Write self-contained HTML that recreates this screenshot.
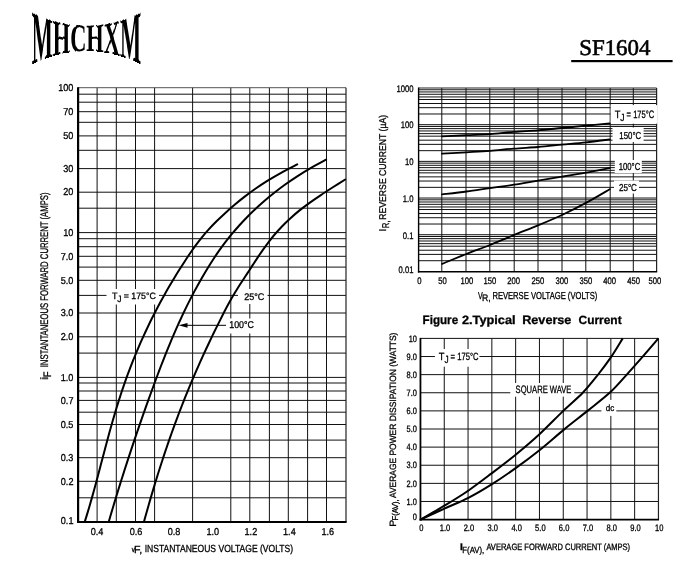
<!DOCTYPE html>
<html><head><meta charset="utf-8"><style>
html,body{margin:0;padding:0;background:#fff;}
svg{display:block;filter:grayscale(1);}

</style></head><body>
<svg font-family="Liberation Sans, sans-serif" text-rendering="geometricPrecision" width="700" height="565" viewBox="0 0 700 565">
<defs>
<g id="lg"><text x="31.7" y="51.05" font-family="Liberation Serif" font-weight="bold" font-size="38.5" textLength="109.3" lengthAdjust="spacingAndGlyphs">MHCHXM</text></g>
<clipPath id="c0"><rect x="29" y="0" width="1.02" height="80"/></clipPath>
<clipPath id="c1"><rect x="30" y="0" width="1.02" height="80"/></clipPath>
<clipPath id="c2"><rect x="31" y="0" width="1.02" height="80"/></clipPath>
<clipPath id="c3"><rect x="32" y="0" width="1.02" height="80"/></clipPath>
<clipPath id="c4"><rect x="33" y="0" width="1.02" height="80"/></clipPath>
<clipPath id="c5"><rect x="34" y="0" width="1.02" height="80"/></clipPath>
<clipPath id="c6"><rect x="35" y="0" width="1.02" height="80"/></clipPath>
<clipPath id="c7"><rect x="36" y="0" width="1.02" height="80"/></clipPath>
<clipPath id="c8"><rect x="37" y="0" width="1.02" height="80"/></clipPath>
<clipPath id="c9"><rect x="38" y="0" width="1.02" height="80"/></clipPath>
<clipPath id="c10"><rect x="39" y="0" width="1.02" height="80"/></clipPath>
<clipPath id="c11"><rect x="40" y="0" width="1.02" height="80"/></clipPath>
<clipPath id="c12"><rect x="41" y="0" width="1.02" height="80"/></clipPath>
<clipPath id="c13"><rect x="42" y="0" width="1.02" height="80"/></clipPath>
<clipPath id="c14"><rect x="43" y="0" width="1.02" height="80"/></clipPath>
<clipPath id="c15"><rect x="44" y="0" width="1.02" height="80"/></clipPath>
<clipPath id="c16"><rect x="45" y="0" width="1.02" height="80"/></clipPath>
<clipPath id="c17"><rect x="46" y="0" width="1.02" height="80"/></clipPath>
<clipPath id="c18"><rect x="47" y="0" width="1.02" height="80"/></clipPath>
<clipPath id="c19"><rect x="48" y="0" width="1.02" height="80"/></clipPath>
<clipPath id="c20"><rect x="49" y="0" width="1.02" height="80"/></clipPath>
<clipPath id="c21"><rect x="50" y="0" width="1.02" height="80"/></clipPath>
<clipPath id="c22"><rect x="51" y="0" width="1.02" height="80"/></clipPath>
<clipPath id="c23"><rect x="52" y="0" width="1.02" height="80"/></clipPath>
<clipPath id="c24"><rect x="53" y="0" width="1.02" height="80"/></clipPath>
<clipPath id="c25"><rect x="54" y="0" width="1.02" height="80"/></clipPath>
<clipPath id="c26"><rect x="55" y="0" width="1.02" height="80"/></clipPath>
<clipPath id="c27"><rect x="56" y="0" width="1.02" height="80"/></clipPath>
<clipPath id="c28"><rect x="57" y="0" width="1.02" height="80"/></clipPath>
<clipPath id="c29"><rect x="58" y="0" width="1.02" height="80"/></clipPath>
<clipPath id="c30"><rect x="59" y="0" width="1.02" height="80"/></clipPath>
<clipPath id="c31"><rect x="60" y="0" width="1.02" height="80"/></clipPath>
<clipPath id="c32"><rect x="61" y="0" width="1.02" height="80"/></clipPath>
<clipPath id="c33"><rect x="62" y="0" width="1.02" height="80"/></clipPath>
<clipPath id="c34"><rect x="63" y="0" width="1.02" height="80"/></clipPath>
<clipPath id="c35"><rect x="64" y="0" width="1.02" height="80"/></clipPath>
<clipPath id="c36"><rect x="65" y="0" width="1.02" height="80"/></clipPath>
<clipPath id="c37"><rect x="66" y="0" width="1.02" height="80"/></clipPath>
<clipPath id="c38"><rect x="67" y="0" width="1.02" height="80"/></clipPath>
<clipPath id="c39"><rect x="68" y="0" width="1.02" height="80"/></clipPath>
<clipPath id="c40"><rect x="69" y="0" width="1.02" height="80"/></clipPath>
<clipPath id="c41"><rect x="70" y="0" width="1.02" height="80"/></clipPath>
<clipPath id="c42"><rect x="71" y="0" width="1.02" height="80"/></clipPath>
<clipPath id="c43"><rect x="72" y="0" width="1.02" height="80"/></clipPath>
<clipPath id="c44"><rect x="73" y="0" width="1.02" height="80"/></clipPath>
<clipPath id="c45"><rect x="74" y="0" width="1.02" height="80"/></clipPath>
<clipPath id="c46"><rect x="75" y="0" width="1.02" height="80"/></clipPath>
<clipPath id="c47"><rect x="76" y="0" width="1.02" height="80"/></clipPath>
<clipPath id="c48"><rect x="77" y="0" width="1.02" height="80"/></clipPath>
<clipPath id="c49"><rect x="78" y="0" width="1.02" height="80"/></clipPath>
<clipPath id="c50"><rect x="79" y="0" width="1.02" height="80"/></clipPath>
<clipPath id="c51"><rect x="80" y="0" width="1.02" height="80"/></clipPath>
<clipPath id="c52"><rect x="81" y="0" width="1.02" height="80"/></clipPath>
<clipPath id="c53"><rect x="82" y="0" width="1.02" height="80"/></clipPath>
<clipPath id="c54"><rect x="83" y="0" width="1.02" height="80"/></clipPath>
<clipPath id="c55"><rect x="84" y="0" width="1.02" height="80"/></clipPath>
<clipPath id="c56"><rect x="85" y="0" width="1.02" height="80"/></clipPath>
<clipPath id="c57"><rect x="86" y="0" width="1.02" height="80"/></clipPath>
<clipPath id="c58"><rect x="87" y="0" width="1.02" height="80"/></clipPath>
<clipPath id="c59"><rect x="88" y="0" width="1.02" height="80"/></clipPath>
<clipPath id="c60"><rect x="89" y="0" width="1.02" height="80"/></clipPath>
<clipPath id="c61"><rect x="90" y="0" width="1.02" height="80"/></clipPath>
<clipPath id="c62"><rect x="91" y="0" width="1.02" height="80"/></clipPath>
<clipPath id="c63"><rect x="92" y="0" width="1.02" height="80"/></clipPath>
<clipPath id="c64"><rect x="93" y="0" width="1.02" height="80"/></clipPath>
<clipPath id="c65"><rect x="94" y="0" width="1.02" height="80"/></clipPath>
<clipPath id="c66"><rect x="95" y="0" width="1.02" height="80"/></clipPath>
<clipPath id="c67"><rect x="96" y="0" width="1.02" height="80"/></clipPath>
<clipPath id="c68"><rect x="97" y="0" width="1.02" height="80"/></clipPath>
<clipPath id="c69"><rect x="98" y="0" width="1.02" height="80"/></clipPath>
<clipPath id="c70"><rect x="99" y="0" width="1.02" height="80"/></clipPath>
<clipPath id="c71"><rect x="100" y="0" width="1.02" height="80"/></clipPath>
<clipPath id="c72"><rect x="101" y="0" width="1.02" height="80"/></clipPath>
<clipPath id="c73"><rect x="102" y="0" width="1.02" height="80"/></clipPath>
<clipPath id="c74"><rect x="103" y="0" width="1.02" height="80"/></clipPath>
<clipPath id="c75"><rect x="104" y="0" width="1.02" height="80"/></clipPath>
<clipPath id="c76"><rect x="105" y="0" width="1.02" height="80"/></clipPath>
<clipPath id="c77"><rect x="106" y="0" width="1.02" height="80"/></clipPath>
<clipPath id="c78"><rect x="107" y="0" width="1.02" height="80"/></clipPath>
<clipPath id="c79"><rect x="108" y="0" width="1.02" height="80"/></clipPath>
<clipPath id="c80"><rect x="109" y="0" width="1.02" height="80"/></clipPath>
<clipPath id="c81"><rect x="110" y="0" width="1.02" height="80"/></clipPath>
<clipPath id="c82"><rect x="111" y="0" width="1.02" height="80"/></clipPath>
<clipPath id="c83"><rect x="112" y="0" width="1.02" height="80"/></clipPath>
<clipPath id="c84"><rect x="113" y="0" width="1.02" height="80"/></clipPath>
<clipPath id="c85"><rect x="114" y="0" width="1.02" height="80"/></clipPath>
<clipPath id="c86"><rect x="115" y="0" width="1.02" height="80"/></clipPath>
<clipPath id="c87"><rect x="116" y="0" width="1.02" height="80"/></clipPath>
<clipPath id="c88"><rect x="117" y="0" width="1.02" height="80"/></clipPath>
<clipPath id="c89"><rect x="118" y="0" width="1.02" height="80"/></clipPath>
<clipPath id="c90"><rect x="119" y="0" width="1.02" height="80"/></clipPath>
<clipPath id="c91"><rect x="120" y="0" width="1.02" height="80"/></clipPath>
<clipPath id="c92"><rect x="121" y="0" width="1.02" height="80"/></clipPath>
<clipPath id="c93"><rect x="122" y="0" width="1.02" height="80"/></clipPath>
<clipPath id="c94"><rect x="123" y="0" width="1.02" height="80"/></clipPath>
<clipPath id="c95"><rect x="124" y="0" width="1.02" height="80"/></clipPath>
<clipPath id="c96"><rect x="125" y="0" width="1.02" height="80"/></clipPath>
<clipPath id="c97"><rect x="126" y="0" width="1.02" height="80"/></clipPath>
<clipPath id="c98"><rect x="127" y="0" width="1.02" height="80"/></clipPath>
<clipPath id="c99"><rect x="128" y="0" width="1.02" height="80"/></clipPath>
<clipPath id="c100"><rect x="129" y="0" width="1.02" height="80"/></clipPath>
<clipPath id="c101"><rect x="130" y="0" width="1.02" height="80"/></clipPath>
<clipPath id="c102"><rect x="131" y="0" width="1.02" height="80"/></clipPath>
<clipPath id="c103"><rect x="132" y="0" width="1.02" height="80"/></clipPath>
<clipPath id="c104"><rect x="133" y="0" width="1.02" height="80"/></clipPath>
<clipPath id="c105"><rect x="134" y="0" width="1.02" height="80"/></clipPath>
<clipPath id="c106"><rect x="135" y="0" width="1.02" height="80"/></clipPath>
<clipPath id="c107"><rect x="136" y="0" width="1.02" height="80"/></clipPath>
<clipPath id="c108"><rect x="137" y="0" width="1.02" height="80"/></clipPath>
<clipPath id="c109"><rect x="138" y="0" width="1.02" height="80"/></clipPath>
<clipPath id="c110"><rect x="139" y="0" width="1.02" height="80"/></clipPath>
<clipPath id="c111"><rect x="140" y="0" width="1.02" height="80"/></clipPath>
<clipPath id="c112"><rect x="141" y="0" width="1.02" height="80"/></clipPath>
<clipPath id="c113"><rect x="142" y="0" width="1.02" height="80"/></clipPath>
<clipPath id="c114"><rect x="143" y="0" width="1.02" height="80"/></clipPath>
</defs>
<rect width="700" height="565" fill="#fff"/>
<g id="left">
<line x1="78.1" y1="94.2" x2="346" y2="94.2" stroke="#111" stroke-width="1"/>
<line x1="78.1" y1="102.2" x2="346" y2="102.2" stroke="#111" stroke-width="1"/>
<line x1="78.1" y1="111.7" x2="346" y2="111.7" stroke="#111" stroke-width="1"/>
<line x1="78.1" y1="122.3" x2="346" y2="122.3" stroke="#111" stroke-width="1"/>
<line x1="78.1" y1="135.9" x2="346" y2="135.9" stroke="#111" stroke-width="1"/>
<line x1="78.1" y1="150.3" x2="346" y2="150.3" stroke="#111" stroke-width="1"/>
<line x1="78.1" y1="168.6" x2="346" y2="168.6" stroke="#111" stroke-width="1"/>
<line x1="78.1" y1="192.2" x2="346" y2="192.2" stroke="#111" stroke-width="1"/>
<line x1="78.1" y1="208.2" x2="346" y2="208.2" stroke="#111" stroke-width="1"/>
<line x1="78.1" y1="232.6" x2="346" y2="232.6" stroke="#111" stroke-width="1"/>
<line x1="78.1" y1="238.7" x2="346" y2="238.7" stroke="#111" stroke-width="1"/>
<line x1="78.1" y1="246.7" x2="346" y2="246.7" stroke="#111" stroke-width="1"/>
<line x1="78.1" y1="256.3" x2="346" y2="256.3" stroke="#111" stroke-width="1"/>
<line x1="78.1" y1="267.1" x2="346" y2="267.1" stroke="#111" stroke-width="1"/>
<line x1="78.1" y1="280.3" x2="346" y2="280.3" stroke="#111" stroke-width="1"/>
<line x1="78.1" y1="295.4" x2="346" y2="295.4" stroke="#111" stroke-width="1"/>
<line x1="78.1" y1="313" x2="346" y2="313" stroke="#111" stroke-width="1"/>
<line x1="78.1" y1="336.8" x2="346" y2="336.8" stroke="#111" stroke-width="1"/>
<line x1="78.1" y1="353.1" x2="346" y2="353.1" stroke="#111" stroke-width="1"/>
<line x1="78.1" y1="377.4" x2="346" y2="377.4" stroke="#111" stroke-width="1"/>
<line x1="78.1" y1="383" x2="346" y2="383" stroke="#111" stroke-width="1"/>
<line x1="78.1" y1="391" x2="346" y2="391" stroke="#111" stroke-width="1"/>
<line x1="78.1" y1="400.4" x2="346" y2="400.4" stroke="#111" stroke-width="1"/>
<line x1="78.1" y1="412.2" x2="346" y2="412.2" stroke="#111" stroke-width="1"/>
<line x1="78.1" y1="424.5" x2="346" y2="424.5" stroke="#111" stroke-width="1"/>
<line x1="78.1" y1="440.1" x2="346" y2="440.1" stroke="#111" stroke-width="1"/>
<line x1="78.1" y1="457.7" x2="346" y2="457.7" stroke="#111" stroke-width="1"/>
<line x1="78.1" y1="481.3" x2="346" y2="481.3" stroke="#111" stroke-width="1"/>
<line x1="78.1" y1="497.8" x2="346" y2="497.8" stroke="#111" stroke-width="1"/>
<line x1="97.1" y1="87.7" x2="97.1" y2="521.9" stroke="#111" stroke-width="1"/>
<line x1="116.3" y1="87.7" x2="116.3" y2="521.9" stroke="#111" stroke-width="1"/>
<line x1="135.5" y1="87.7" x2="135.5" y2="521.9" stroke="#111" stroke-width="1"/>
<line x1="154.6" y1="87.7" x2="154.6" y2="521.9" stroke="#111" stroke-width="1"/>
<line x1="192.6" y1="87.7" x2="192.6" y2="521.9" stroke="#111" stroke-width="1"/>
<line x1="230.8" y1="87.7" x2="230.8" y2="521.9" stroke="#111" stroke-width="1"/>
<line x1="249.8" y1="87.7" x2="249.8" y2="521.9" stroke="#111" stroke-width="1"/>
<line x1="269.4" y1="87.7" x2="269.4" y2="521.9" stroke="#111" stroke-width="1"/>
<line x1="288.3" y1="87.7" x2="288.3" y2="521.9" stroke="#111" stroke-width="1"/>
<line x1="307.6" y1="87.7" x2="307.6" y2="521.9" stroke="#111" stroke-width="1"/>
<line x1="326.5" y1="87.7" x2="326.5" y2="521.9" stroke="#111" stroke-width="1"/>
<line x1="78.1" y1="87.7" x2="346" y2="87.7" stroke="#555" stroke-width="1"/>
<line x1="346" y1="87.7" x2="346" y2="521.9" stroke="#222" stroke-width="1.2"/>
<line x1="78.1" y1="87.2" x2="78.1" y2="522.9" stroke="#000" stroke-width="2.2"/>
<line x1="77.1" y1="521.9" x2="346.6" y2="521.9" stroke="#000" stroke-width="2"/>
<rect x="106.5" y="289" width="52.5" height="15.5" fill="#fff"/>
<rect x="238" y="289" width="29.5" height="15" fill="#fff"/>
<rect x="227" y="318.5" width="30" height="15" fill="#fff"/>
<line x1="186" y1="325.3" x2="226" y2="325.3" stroke="#000" stroke-width="1"/>
<path d="M178.6,325.3 L187.5,322.9 L187.5,327.7 Z" fill="#000"/>
<path d="M84.7,522 C85.12,520.64 86.39,516.58 87.21,513.87 C88.03,511.16 88.84,508.46 89.63,505.75 C90.42,503.04 91.19,500.33 91.96,497.62 C92.72,494.91 93.47,492.2 94.22,489.49 C94.97,486.78 95.7,484.07 96.43,481.36 C97.16,478.65 97.87,475.95 98.59,473.24 C99.31,470.53 100.02,467.82 100.74,465.11 C101.45,462.4 102.16,459.69 102.88,456.98 C103.59,454.27 104.31,451.56 105.03,448.85 C105.75,446.14 106.47,443.44 107.2,440.73 C107.93,438.02 108.66,435.31 109.41,432.6 C110.16,429.89 110.9,427.18 111.67,424.47 C112.44,421.76 113.22,419.06 114.01,416.35 C114.8,413.64 115.61,410.93 116.43,408.22 C117.25,405.51 118.09,402.8 118.95,400.09 C119.81,397.38 120.68,394.67 121.58,391.96 C122.48,389.25 123.4,386.55 124.35,383.84 C125.3,381.13 126.27,378.42 127.26,375.71 C128.25,373 129.26,370.29 130.3,367.58 C131.34,364.87 132.4,362.16 133.49,359.45 C134.58,356.74 135.69,354.04 136.83,351.33 C137.97,348.62 139.13,345.91 140.32,343.2 C141.51,340.49 142.72,337.78 143.96,335.07 C145.2,332.36 146.48,329.66 147.77,326.95 C149.06,324.24 150.38,321.53 151.73,318.82 C153.08,316.11 154.46,313.4 155.87,310.69 C157.28,307.98 158.71,305.27 160.17,302.56 C161.63,299.85 163.13,297.15 164.65,294.44 C166.17,291.73 167.72,289.02 169.3,286.31 C170.88,283.6 172.5,280.89 174.14,278.18 C175.78,275.47 177.45,272.76 179.16,270.05 C180.87,267.34 182.6,264.64 184.37,261.93 C186.14,259.22 187.94,256.51 189.79,253.8 C191.64,251.09 193.49,248.38 195.48,245.67 C197.47,242.96 199.5,240.26 201.71,237.55 C203.92,234.84 206.26,232.13 208.73,229.42 C211.2,226.71 213.81,224 216.54,221.29 C219.27,218.58 222.13,215.87 225.1,213.16 C228.07,210.45 231.13,207.75 234.34,205.04 C237.55,202.33 240.85,199.62 244.36,196.91 C247.87,194.2 251.49,191.49 255.38,188.78 C259.27,186.07 263.33,183.36 267.69,180.65 C272.05,177.94 276.62,175.24 281.54,172.53 C286.46,169.82 294.59,165.75 297.2,164.4" fill="none" stroke="#000" stroke-width="2" stroke-linecap="round" stroke-linejoin="round"/>
<path d="M108.68,522 C109.08,520.63 110.28,516.5 111.09,513.76 C111.9,511.01 112.72,508.27 113.54,505.53 C114.36,502.78 115.19,500.04 116.03,497.29 C116.87,494.54 117.71,491.8 118.56,489.05 C119.41,486.31 120.27,483.56 121.13,480.82 C121.99,478.07 122.86,475.32 123.74,472.58 C124.62,469.83 125.5,467.1 126.39,464.35 C127.28,461.61 128.17,458.86 129.07,456.11 C129.97,453.36 130.89,450.62 131.8,447.87 C132.72,445.12 133.63,442.38 134.56,439.64 C135.49,436.89 136.43,434.15 137.37,431.4 C138.31,428.65 139.26,425.91 140.21,423.16 C141.16,420.42 142.12,417.68 143.08,414.93 C144.05,412.19 145.02,409.44 146,406.69 C146.98,403.94 147.95,401.19 148.94,398.45 C149.93,395.7 150.93,392.97 151.93,390.22 C152.93,387.48 153.94,384.73 154.95,381.98 C155.96,379.24 156.99,376.5 158.02,373.75 C159.05,371 160.09,368.26 161.15,365.51 C162.21,362.76 163.28,360.01 164.36,357.27 C165.45,354.52 166.54,351.79 167.66,349.04 C168.78,346.3 169.92,343.55 171.07,340.8 C172.22,338.05 173.39,335.31 174.58,332.56 C175.77,329.81 176.99,327.07 178.23,324.33 C179.47,321.58 180.73,318.84 182.02,316.09 C183.31,313.34 184.62,310.6 185.97,307.85 C187.31,305.11 188.69,302.37 190.09,299.62 C191.49,296.88 192.91,294.12 194.38,291.38 C195.84,288.63 197.34,285.89 198.88,283.15 C200.41,280.4 201.98,277.66 203.59,274.91 C205.2,272.16 206.85,269.42 208.55,266.67 C210.25,263.93 212,261.19 213.82,258.44 C215.64,255.69 217.51,252.95 219.47,250.2 C221.43,247.45 223.44,244.71 225.55,241.96 C227.66,239.22 229.84,236.47 232.12,233.73 C234.4,230.98 236.77,228.24 239.25,225.49 C241.73,222.74 244.3,220 246.99,217.25 C249.68,214.5 252.48,211.77 255.41,209.02 C258.34,206.28 261.39,203.53 264.59,200.78 C267.79,198.03 271.11,195.3 274.6,192.55 C278.09,189.81 281.7,187.06 285.53,184.31 C289.36,181.56 293.35,178.81 297.6,176.07 C301.85,173.32 306.28,170.59 311.03,167.84 C315.78,165.09 323.57,160.97 326.08,159.6" fill="none" stroke="#000" stroke-width="2" stroke-linecap="round" stroke-linejoin="round"/>
<path d="M143.9,522 C144.26,520.7 145.33,516.82 146.06,514.22 C146.79,511.62 147.53,509.03 148.27,506.43 C149.01,503.83 149.75,501.25 150.51,498.65 C151.27,496.05 152.03,493.46 152.81,490.86 C153.59,488.26 154.37,485.67 155.16,483.08 C155.95,480.49 156.75,477.89 157.56,475.3 C158.37,472.71 159.19,470.11 160.02,467.51 C160.85,464.91 161.69,462.33 162.54,459.73 C163.39,457.13 164.25,454.53 165.12,451.94 C165.99,449.35 166.87,446.75 167.76,444.16 C168.65,441.57 169.56,438.98 170.47,436.38 C171.38,433.78 172.31,431.18 173.25,428.59 C174.19,426 175.14,423.4 176.1,420.81 C177.06,418.22 178.04,415.62 179.03,413.02 C180.02,410.42 181.02,407.84 182.03,405.24 C183.04,402.64 184.07,400.04 185.11,397.45 C186.15,394.86 187.2,392.26 188.27,389.67 C189.34,387.08 190.43,384.49 191.52,381.89 C192.62,379.29 193.72,376.7 194.84,374.1 C195.96,371.5 197.09,368.92 198.24,366.32 C199.39,363.72 200.56,361.12 201.73,358.53 C202.9,355.93 204.09,353.34 205.29,350.75 C206.49,348.16 207.71,345.57 208.94,342.97 C210.17,340.38 211.41,337.78 212.66,335.18 C213.91,332.58 215.19,330 216.47,327.4 C217.75,324.8 219.05,322.21 220.36,319.61 C221.67,317.01 222.98,314.42 224.32,311.83 C225.66,309.24 227,306.64 228.41,304.05 C229.82,301.46 231.25,298.86 232.76,296.26 C234.27,293.66 235.87,291.08 237.5,288.48 C239.13,285.88 240.84,283.28 242.53,280.69 C244.22,278.1 245.95,275.5 247.64,272.91 C249.33,270.32 251,267.72 252.69,265.12 C254.38,262.52 256.05,259.93 257.78,257.34 C259.51,254.75 261.24,252.16 263.08,249.56 C264.92,246.97 266.8,244.37 268.8,241.77 C270.8,239.18 272.87,236.59 275.1,233.99 C277.33,231.4 279.67,228.79 282.18,226.2 C284.69,223.6 287.34,221.01 290.19,218.42 C293.04,215.83 296.04,213.23 299.27,210.64 C302.5,208.04 305.95,205.44 309.55,202.85 C313.15,200.25 316.98,197.66 320.87,195.07 C324.76,192.47 328.81,189.88 332.87,187.28 C336.93,184.69 343.15,180.8 345.21,179.5" fill="none" stroke="#000" stroke-width="2" stroke-linecap="round" stroke-linejoin="round"/>
</g>
<g id="rtop">
<line x1="418.6" y1="260.71" x2="656.6" y2="260.71" stroke="#111" stroke-width="1"/>
<line x1="418.6" y1="254.4" x2="656.6" y2="254.4" stroke="#111" stroke-width="1"/>
<line x1="418.6" y1="250.22" x2="656.6" y2="250.22" stroke="#111" stroke-width="1"/>
<line x1="418.6" y1="246.21" x2="656.6" y2="246.21" stroke="#111" stroke-width="1"/>
<line x1="418.6" y1="243.66" x2="656.6" y2="243.66" stroke="#111" stroke-width="1"/>
<line x1="418.6" y1="241" x2="656.6" y2="241" stroke="#111" stroke-width="1"/>
<line x1="418.6" y1="238.67" x2="656.6" y2="238.67" stroke="#111" stroke-width="1"/>
<line x1="418.6" y1="236.5" x2="656.6" y2="236.5" stroke="#111" stroke-width="1"/>
<line x1="418.6" y1="224.03" x2="656.6" y2="224.03" stroke="#111" stroke-width="1"/>
<line x1="418.6" y1="217.72" x2="656.6" y2="217.72" stroke="#111" stroke-width="1"/>
<line x1="418.6" y1="213.54" x2="656.6" y2="213.54" stroke="#111" stroke-width="1"/>
<line x1="418.6" y1="209.53" x2="656.6" y2="209.53" stroke="#111" stroke-width="1"/>
<line x1="418.6" y1="206.98" x2="656.6" y2="206.98" stroke="#111" stroke-width="1"/>
<line x1="418.6" y1="204.32" x2="656.6" y2="204.32" stroke="#111" stroke-width="1"/>
<line x1="418.6" y1="201.99" x2="656.6" y2="201.99" stroke="#111" stroke-width="1"/>
<line x1="418.6" y1="199.82" x2="656.6" y2="199.82" stroke="#111" stroke-width="1"/>
<line x1="418.6" y1="234.72" x2="656.6" y2="234.72" stroke="#111" stroke-width="1"/>
<line x1="418.6" y1="187.35" x2="656.6" y2="187.35" stroke="#111" stroke-width="1"/>
<line x1="418.6" y1="181.04" x2="656.6" y2="181.04" stroke="#111" stroke-width="1"/>
<line x1="418.6" y1="176.86" x2="656.6" y2="176.86" stroke="#111" stroke-width="1"/>
<line x1="418.6" y1="172.85" x2="656.6" y2="172.85" stroke="#111" stroke-width="1"/>
<line x1="418.6" y1="170.3" x2="656.6" y2="170.3" stroke="#111" stroke-width="1"/>
<line x1="418.6" y1="167.64" x2="656.6" y2="167.64" stroke="#111" stroke-width="1"/>
<line x1="418.6" y1="165.31" x2="656.6" y2="165.31" stroke="#111" stroke-width="1"/>
<line x1="418.6" y1="163.14" x2="656.6" y2="163.14" stroke="#111" stroke-width="1"/>
<line x1="418.6" y1="198.04" x2="656.6" y2="198.04" stroke="#111" stroke-width="1"/>
<line x1="418.6" y1="150.67" x2="656.6" y2="150.67" stroke="#111" stroke-width="1"/>
<line x1="418.6" y1="144.36" x2="656.6" y2="144.36" stroke="#111" stroke-width="1"/>
<line x1="418.6" y1="140.18" x2="656.6" y2="140.18" stroke="#111" stroke-width="1"/>
<line x1="418.6" y1="136.17" x2="656.6" y2="136.17" stroke="#111" stroke-width="1"/>
<line x1="418.6" y1="133.62" x2="656.6" y2="133.62" stroke="#111" stroke-width="1"/>
<line x1="418.6" y1="130.96" x2="656.6" y2="130.96" stroke="#111" stroke-width="1"/>
<line x1="418.6" y1="128.63" x2="656.6" y2="128.63" stroke="#111" stroke-width="1"/>
<line x1="418.6" y1="126.46" x2="656.6" y2="126.46" stroke="#111" stroke-width="1"/>
<line x1="418.6" y1="161.36" x2="656.6" y2="161.36" stroke="#111" stroke-width="1"/>
<line x1="418.6" y1="113.99" x2="656.6" y2="113.99" stroke="#111" stroke-width="1"/>
<line x1="418.6" y1="107.68" x2="656.6" y2="107.68" stroke="#111" stroke-width="1"/>
<line x1="418.6" y1="103.5" x2="656.6" y2="103.5" stroke="#111" stroke-width="1"/>
<line x1="418.6" y1="99.49" x2="656.6" y2="99.49" stroke="#111" stroke-width="1"/>
<line x1="418.6" y1="96.94" x2="656.6" y2="96.94" stroke="#111" stroke-width="1"/>
<line x1="418.6" y1="94.28" x2="656.6" y2="94.28" stroke="#111" stroke-width="1"/>
<line x1="418.6" y1="91.95" x2="656.6" y2="91.95" stroke="#111" stroke-width="1"/>
<line x1="418.6" y1="89.78" x2="656.6" y2="89.78" stroke="#111" stroke-width="1"/>
<line x1="418.6" y1="124.68" x2="656.6" y2="124.68" stroke="#111" stroke-width="1"/>
<line x1="441.8" y1="88" x2="441.8" y2="271.4" stroke="#111" stroke-width="1"/>
<line x1="466" y1="88" x2="466" y2="271.4" stroke="#111" stroke-width="1"/>
<line x1="489.8" y1="88" x2="489.8" y2="271.4" stroke="#111" stroke-width="1"/>
<line x1="514.2" y1="88" x2="514.2" y2="271.4" stroke="#111" stroke-width="1"/>
<line x1="538" y1="88" x2="538" y2="271.4" stroke="#111" stroke-width="1"/>
<line x1="562" y1="88" x2="562" y2="271.4" stroke="#111" stroke-width="1"/>
<line x1="585.8" y1="88" x2="585.8" y2="271.4" stroke="#111" stroke-width="1"/>
<line x1="610.2" y1="88" x2="610.2" y2="271.4" stroke="#111" stroke-width="1"/>
<line x1="633.3" y1="88" x2="633.3" y2="271.4" stroke="#111" stroke-width="1"/>
<line x1="418.6" y1="88" x2="656.6" y2="88" stroke="#222" stroke-width="1"/>
<line x1="656.6" y1="88" x2="656.6" y2="271.8" stroke="#222" stroke-width="1.2"/>
<line x1="418.6" y1="87.5" x2="418.6" y2="272.6" stroke="#000" stroke-width="1.4"/>
<line x1="417.9" y1="271.8" x2="657.2" y2="271.8" stroke="#000" stroke-width="1.6"/>
<rect x="610.7" y="105.1" width="46.8" height="18.6" fill="#fff"/>
<rect x="612.5" y="127.5" width="31.1" height="14.5" fill="#fff"/>
<rect x="614.8" y="160" width="27" height="13" fill="#fff"/>
<rect x="614" y="180.5" width="25" height="13" fill="#fff"/>
<path d="M442,136.3 C446.08,136.12 458.5,135.55 466.5,135.2 C474.5,134.85 482.08,134.75 490,134.2 C497.92,133.65 506,132.55 514,131.9 C522,131.25 530,130.95 538,130.3 C546,129.65 554,128.77 562,128 C570,127.23 578.05,126.47 586,125.7 C593.95,124.93 605.75,123.78 609.7,123.4" fill="none" stroke="#000" stroke-width="1.8" stroke-linecap="round" stroke-linejoin="round"/>
<path d="M442,153.6 C446.08,153.38 458.5,152.75 466.5,152.3 C474.5,151.85 482.08,151.52 490,150.9 C497.92,150.28 506,149.25 514,148.6 C522,147.95 530,147.65 538,147 C546,146.35 554,145.47 562,144.7 C570,143.93 578.05,143.28 586,142.4 C593.95,141.52 605.75,139.9 609.7,139.4" fill="none" stroke="#000" stroke-width="1.8" stroke-linecap="round" stroke-linejoin="round"/>
<path d="M442,194.4 C446.08,193.92 458.5,192.55 466.5,191.5 C474.5,190.45 482.08,189.23 490,188.1 C497.92,186.97 506,185.95 514,184.7 C522,183.45 530,181.93 538,180.6 C546,179.27 554,178.03 562,176.7 C570,175.37 578.05,174.05 586,172.6 C593.95,171.15 605.75,168.77 609.7,168" fill="none" stroke="#000" stroke-width="1.8" stroke-linecap="round" stroke-linejoin="round"/>
<path d="M442.1,263.9 C446.13,262.25 458.32,257.15 466.3,254 C474.28,250.85 482.05,248.17 490,245 C497.95,241.83 506,238.27 514,235 C522,231.73 530,228.73 538,225.4 C546,222.07 554,218.75 562,215 C570,211.25 578.05,207.18 586,202.9 C593.95,198.62 605.75,191.57 609.7,189.3" fill="none" stroke="#000" stroke-width="1.8" stroke-linecap="round" stroke-linejoin="round"/>
</g>
<g id="bot">
<line x1="444.25" y1="338.4" x2="444.25" y2="519.6" stroke="#111" stroke-width="1"/>
<line x1="420.45" y1="501.48" x2="658.45" y2="501.48" stroke="#111" stroke-width="1"/>
<line x1="468.05" y1="338.4" x2="468.05" y2="519.6" stroke="#111" stroke-width="1"/>
<line x1="420.45" y1="483.36" x2="658.45" y2="483.36" stroke="#111" stroke-width="1"/>
<line x1="491.85" y1="338.4" x2="491.85" y2="519.6" stroke="#111" stroke-width="1"/>
<line x1="420.45" y1="465.24" x2="658.45" y2="465.24" stroke="#111" stroke-width="1"/>
<line x1="515.65" y1="338.4" x2="515.65" y2="519.6" stroke="#111" stroke-width="1"/>
<line x1="420.45" y1="447.12" x2="658.45" y2="447.12" stroke="#111" stroke-width="1"/>
<line x1="539.45" y1="338.4" x2="539.45" y2="519.6" stroke="#111" stroke-width="1"/>
<line x1="420.45" y1="429" x2="658.45" y2="429" stroke="#111" stroke-width="1"/>
<line x1="563.25" y1="338.4" x2="563.25" y2="519.6" stroke="#111" stroke-width="1"/>
<line x1="420.45" y1="410.88" x2="658.45" y2="410.88" stroke="#111" stroke-width="1"/>
<line x1="587.05" y1="338.4" x2="587.05" y2="519.6" stroke="#111" stroke-width="1"/>
<line x1="420.45" y1="392.76" x2="658.45" y2="392.76" stroke="#111" stroke-width="1"/>
<line x1="610.85" y1="338.4" x2="610.85" y2="519.6" stroke="#111" stroke-width="1"/>
<line x1="420.45" y1="374.64" x2="658.45" y2="374.64" stroke="#111" stroke-width="1"/>
<line x1="634.65" y1="338.4" x2="634.65" y2="519.6" stroke="#111" stroke-width="1"/>
<line x1="420.45" y1="356.52" x2="658.45" y2="356.52" stroke="#111" stroke-width="1"/>
<line x1="420.45" y1="338.4" x2="658.45" y2="338.4" stroke="#111" stroke-width="1"/>
<line x1="658.45" y1="338.4" x2="658.45" y2="519.6" stroke="#222" stroke-width="1.2"/>
<line x1="420.45" y1="337.9" x2="420.45" y2="520.6" stroke="#000" stroke-width="1.8"/>
<line x1="419.55" y1="519.6" x2="659.05" y2="519.6" stroke="#000" stroke-width="1.8"/>
<rect x="434.9" y="349" width="44.5" height="17.7" fill="#fff"/>
<rect x="510.3" y="383" width="64" height="13.7" fill="#fff"/>
<rect x="601.4" y="399.9" width="14.9" height="16" fill="#fff"/>
<path d="M420.45,519.6 C424.46,517.27 436.59,510.42 444.49,505.65 C452.38,500.88 459.96,496.35 467.81,490.97 C475.67,485.59 483.64,479.43 491.61,473.39 C499.58,467.35 507.68,461.25 515.65,454.73 C523.62,448.21 531.52,441.56 539.45,434.25 C547.38,426.95 556.03,417.8 563.25,410.88 C570.47,403.96 577.01,398.74 582.77,392.76 C588.52,386.78 593.08,380.89 597.76,375 C602.44,369.11 606.69,363.53 610.85,357.43 C615.01,351.33 620.77,341.57 622.75,338.4" fill="none" stroke="#000" stroke-width="2" stroke-linecap="butt" stroke-linejoin="round"/>
<path d="M420.45,519.6 C424.46,517.76 436.59,512.11 444.49,508.55 C452.38,504.98 459.96,502.24 467.81,498.22 C475.67,494.2 483.64,489.46 491.61,484.45 C499.58,479.43 507.68,473.85 515.65,468.14 C523.62,462.43 531.36,456.66 539.45,450.2 C547.54,443.74 556.19,435.92 564.2,429.36 C572.21,422.81 579.91,417.01 587.53,410.88 C595.14,404.75 603.39,398.59 609.9,392.58 C616.4,386.57 621.12,380.77 626.56,374.82 C631.99,368.87 637.19,362.95 642.5,356.88 C647.82,350.81 655.79,341.48 658.45,338.4" fill="none" stroke="#000" stroke-width="2" stroke-linecap="butt" stroke-linejoin="round"/>
</g>
<g fill="#000" stroke="#000" stroke-width="0.3">
<text font-size="10.00" transform="translate(58.17,90.60) scale(0.910,1)" xml:space="preserve">100</text>
<text font-size="10.00" transform="translate(63.26,115.15) scale(0.910,1)" xml:space="preserve">70</text>
<text font-size="10.00" transform="translate(63.26,139.35) scale(0.910,1)" xml:space="preserve">50</text>
<text font-size="10.00" transform="translate(63.26,172.05) scale(0.910,1)" xml:space="preserve">30</text>
<text font-size="10.00" transform="translate(63.26,195.25) scale(0.910,1)" xml:space="preserve">20</text>
<text font-size="10.00" transform="translate(63.26,236.05) scale(0.910,1)" xml:space="preserve">10</text>
<text font-size="10.00" transform="translate(60.72,259.85) scale(0.910,1)" xml:space="preserve">7.0</text>
<text font-size="10.00" transform="translate(60.72,283.75) scale(0.910,1)" xml:space="preserve">5.0</text>
<text font-size="10.00" transform="translate(60.72,316.45) scale(0.910,1)" xml:space="preserve">3.0</text>
<text font-size="10.00" transform="translate(60.72,340.25) scale(0.910,1)" xml:space="preserve">2.0</text>
<text font-size="10.00" transform="translate(60.72,380.65) scale(0.910,1)" xml:space="preserve">1.0</text>
<text font-size="10.00" transform="translate(60.81,403.85) scale(0.910,1)" xml:space="preserve">0.7</text>
<text font-size="10.00" transform="translate(60.72,427.95) scale(0.910,1)" xml:space="preserve">0.5</text>
<text font-size="10.00" transform="translate(60.72,461.15) scale(0.910,1)" xml:space="preserve">0.3</text>
<text font-size="10.00" transform="translate(60.81,485.05) scale(0.910,1)" xml:space="preserve">0.2</text>
<text font-size="10.00" transform="translate(60.81,523.75) scale(0.910,1)" xml:space="preserve">0.1</text>
<text font-size="10.00" transform="translate(90.63,535.00) scale(0.910,1)" xml:space="preserve">0.4</text>
<text font-size="10.00" transform="translate(129.68,535.00) scale(0.910,1)" xml:space="preserve">0.6</text>
<text font-size="10.00" transform="translate(167.68,535.00) scale(0.910,1)" xml:space="preserve">0.8</text>
<text font-size="10.00" transform="translate(206.49,535.00) scale(0.910,1)" xml:space="preserve">1.0</text>
<text font-size="10.00" transform="translate(244.54,535.00) scale(0.910,1)" xml:space="preserve">1.2</text>
<text font-size="10.00" transform="translate(283.05,535.00) scale(0.910,1)" xml:space="preserve">1.4</text>
<text font-size="10.00" transform="translate(321.49,535.00) scale(0.910,1)" xml:space="preserve">1.6</text>
<text font-size="7.74" transform="translate(131.64,551.60) scale(0.781,1)" xml:space="preserve">v</text>
<text font-size="10.29" transform="translate(134.05,553.30) scale(1.036,1)" xml:space="preserve">F,</text>
<text font-size="10.29" transform="translate(144.63,551.70) scale(0.832,1)" xml:space="preserve">INSTANTANEOUS VOLTAGE (VOLTS)</text>
<text font-size="9.28" transform="translate(111.92,298.60) scale(0.965,1)" xml:space="preserve">T</text>
<text font-size="9.28" transform="translate(117.23,301.50) scale(0.920,1)" xml:space="preserve">J</text>
<text font-size="9.28" transform="translate(123.66,298.60) scale(0.951,1)" xml:space="preserve">= 175°C</text>
<text font-size="9.57" transform="translate(244.25,299.60) scale(0.942,1)" xml:space="preserve">25°C</text>
<text font-size="9.86" transform="translate(229.29,328.20) scale(0.897,1)" xml:space="preserve">100°C</text>
<text font-size="9.57" transform="translate(396.42,91.90) scale(0.800,1)" xml:space="preserve">1000</text>
<text font-size="9.57" transform="translate(400.63,128.00) scale(0.800,1)" xml:space="preserve">100</text>
<text font-size="9.57" transform="translate(404.91,164.50) scale(0.800,1)" xml:space="preserve">10</text>
<text font-size="9.57" transform="translate(402.77,201.90) scale(0.800,1)" xml:space="preserve">1.0</text>
<text font-size="9.57" transform="translate(402.85,238.50) scale(0.800,1)" xml:space="preserve">0.1</text>
<text font-size="9.57" transform="translate(398.56,273.00) scale(0.800,1)" xml:space="preserve">0.01</text>
<text font-size="9.57" transform="translate(417.36,283.60) scale(0.800,1)" xml:space="preserve">0</text>
<text font-size="9.57" transform="translate(438.15,283.60) scale(0.800,1)" xml:space="preserve">50</text>
<text font-size="9.57" transform="translate(460.46,283.60) scale(0.800,1)" xml:space="preserve">100</text>
<text font-size="9.57" transform="translate(483.46,283.60) scale(0.800,1)" xml:space="preserve">150</text>
<text font-size="9.57" transform="translate(507.17,283.60) scale(0.800,1)" xml:space="preserve">200</text>
<text font-size="9.57" transform="translate(531.57,283.60) scale(0.800,1)" xml:space="preserve">250</text>
<text font-size="9.57" transform="translate(555.61,283.60) scale(0.800,1)" xml:space="preserve">300</text>
<text font-size="9.57" transform="translate(579.61,283.60) scale(0.800,1)" xml:space="preserve">350</text>
<text font-size="9.57" transform="translate(603.29,283.60) scale(0.800,1)" xml:space="preserve">400</text>
<text font-size="9.57" transform="translate(627.19,283.60) scale(0.800,1)" xml:space="preserve">450</text>
<text font-size="9.57" transform="translate(648.61,283.60) scale(0.800,1)" xml:space="preserve">500</text>
<text font-size="10.14" transform="translate(477.93,299.00) scale(0.698,1)" xml:space="preserve">V</text>
<text font-size="9.57" transform="translate(482.11,301.20) scale(0.907,1)" xml:space="preserve">R,</text>
<text font-size="10.14" transform="translate(492.39,299.00) scale(0.752,1)" xml:space="preserve">REVERSE VOLTAGE (VOLTS)</text>
<text font-size="10.72" transform="translate(614.71,117.60) scale(0.867,1)" xml:space="preserve">T</text>
<text font-size="10.29" transform="translate(620.33,120.60) scale(0.830,1)" xml:space="preserve">J</text>
<text font-size="10.72" transform="translate(626.62,117.60) scale(0.705,1)" xml:space="preserve">= 175°C</text>
<text font-size="10.14" transform="translate(619.37,139.00) scale(0.772,1)" xml:space="preserve">150°C</text>
<text font-size="10.14" transform="translate(618.68,170.10) scale(0.764,1)" xml:space="preserve">100°C</text>
<text font-size="10.00" transform="translate(618.90,190.90) scale(0.808,1)" xml:space="preserve">25°C</text>
<text font-size="12.32" font-weight="700" transform="translate(422.59,324.00) scale(0.944,1)" xml:space="preserve">Figure</text>
<text font-size="12.14" font-weight="700" transform="translate(461.92,324.00) scale(1.051,1)" xml:space="preserve">2.Typical</text>
<text font-size="12.32" font-weight="700" transform="translate(522.22,324.00) scale(1.026,1)" xml:space="preserve">Reverse</text>
<text font-size="11.97" font-weight="700" transform="translate(578.52,323.88) scale(0.997,1)" xml:space="preserve">Current</text>
<text font-size="9.28" transform="translate(412.74,520.10) scale(0.800,1)" xml:space="preserve">0</text>
<text font-size="9.28" transform="translate(406.58,504.68) scale(0.800,1)" xml:space="preserve">1.0</text>
<text font-size="9.28" transform="translate(406.58,486.56) scale(0.800,1)" xml:space="preserve">2.0</text>
<text font-size="9.28" transform="translate(406.58,468.44) scale(0.800,1)" xml:space="preserve">3.0</text>
<text font-size="9.28" transform="translate(406.58,450.32) scale(0.800,1)" xml:space="preserve">4.0</text>
<text font-size="9.28" transform="translate(406.58,432.20) scale(0.800,1)" xml:space="preserve">5.0</text>
<text font-size="9.28" transform="translate(406.58,414.08) scale(0.800,1)" xml:space="preserve">6.0</text>
<text font-size="9.28" transform="translate(406.58,395.96) scale(0.800,1)" xml:space="preserve">7.0</text>
<text font-size="9.28" transform="translate(406.58,377.84) scale(0.800,1)" xml:space="preserve">8.0</text>
<text font-size="9.28" transform="translate(406.58,359.72) scale(0.800,1)" xml:space="preserve">9.0</text>
<text font-size="9.28" transform="translate(408.66,341.60) scale(0.800,1)" xml:space="preserve">10</text>
<text font-size="9.42" transform="translate(419.24,531.30) scale(0.800,1)" xml:space="preserve">0</text>
<text font-size="9.42" transform="translate(439.76,531.30) scale(0.800,1)" xml:space="preserve">1.0</text>
<text font-size="9.42" transform="translate(463.67,531.30) scale(0.800,1)" xml:space="preserve">2.0</text>
<text font-size="9.42" transform="translate(487.51,531.30) scale(0.800,1)" xml:space="preserve">3.0</text>
<text font-size="9.42" transform="translate(511.39,531.30) scale(0.800,1)" xml:space="preserve">4.0</text>
<text font-size="9.42" transform="translate(535.11,531.30) scale(0.800,1)" xml:space="preserve">5.0</text>
<text font-size="9.42" transform="translate(558.87,531.30) scale(0.800,1)" xml:space="preserve">6.0</text>
<text font-size="9.42" transform="translate(582.67,531.30) scale(0.800,1)" xml:space="preserve">7.0</text>
<text font-size="9.42" transform="translate(606.51,531.30) scale(0.800,1)" xml:space="preserve">8.0</text>
<text font-size="9.42" transform="translate(630.27,531.30) scale(0.800,1)" xml:space="preserve">9.0</text>
<text font-size="9.42" transform="translate(655.02,531.30) scale(0.800,1)" xml:space="preserve">10</text>
<text font-size="9.57" transform="translate(459.44,549.80) scale(1.464,1)" xml:space="preserve">I</text>
<text font-size="8.84" transform="translate(462.28,552.60) scale(0.884,1)" xml:space="preserve">F(AV),</text>
<text font-size="9.28" transform="translate(486.40,549.80) scale(0.813,1)" xml:space="preserve">AVERAGE FORWARD CURRENT (AMPS)</text>
<text font-size="10.43" transform="translate(438.71,359.60) scale(0.891,1)" xml:space="preserve">T</text>
<text font-size="10.43" transform="translate(444.43,362.70) scale(0.795,1)" xml:space="preserve">J</text>
<text font-size="10.43" transform="translate(450.62,359.60) scale(0.735,1)" xml:space="preserve">= 175°C</text>
<text font-size="10.72" transform="translate(515.62,392.70) scale(0.710,1)" xml:space="preserve">SQUARE WAVE</text>
<text font-size="9.04" transform="translate(605.68,410.61) scale(0.894,1)" xml:space="preserve">dc</text>
<text font-size="10.69" fill="#666" transform="translate(47.90,379.95) rotate(-90) scale(1.403,1)" xml:space="preserve">i</text>
<text font-size="10.87" transform="translate(50.60,377.35) rotate(-90) scale(0.864,1)" xml:space="preserve">F</text>
<text font-size="11.01" transform="translate(47.70,367.29) rotate(-90) scale(0.701,1)" xml:space="preserve">INSTANTANEOUS FORWARD CURRENT (AMPS)</text>
<text font-size="9.86" transform="translate(386.40,231.40) rotate(-90) scale(1.015,1)" xml:space="preserve">I</text>
<text font-size="9.86" transform="translate(389.40,228.13) rotate(-90) scale(0.795,1)" xml:space="preserve">R,</text>
<text font-size="9.86" transform="translate(386.40,219.69) rotate(-90) scale(0.879,1)" xml:space="preserve">REVERSE CURRENT (µA)</text>
<text font-size="9.13" transform="translate(395.60,526.83) rotate(-90) scale(1.137,1)" xml:space="preserve">P</text>
<text font-size="8.41" transform="translate(397.60,520.40) rotate(-90) scale(0.889,1)" xml:space="preserve">F(AV),</text>
<text font-size="9.13" transform="translate(395.60,498.00) rotate(-90) scale(0.924,1)" xml:space="preserve">AVERAGE POWER DISSIPATION (WATTS)</text>
</g>
<text x="579.2" y="55.2" font-family="Liberation Serif" font-size="22.4" stroke="#000" stroke-width="0.6" textLength="71.2" lengthAdjust="spacingAndGlyphs">SF1604</text>
<rect x="571.2" y="60" width="101.4" height="2.2" fill="#000"/>
<g>
<use href="#lg" clip-path="url(#c0)" transform="translate(0,-43.93) scale(1,2.1469)"/>
<use href="#lg" clip-path="url(#c1)" transform="translate(0,-42.4) scale(1,2.1070)"/>
<use href="#lg" clip-path="url(#c2)" transform="translate(0,-40.9) scale(1,2.0678)"/>
<use href="#lg" clip-path="url(#c3)" transform="translate(0,-39.42) scale(1,2.0293)"/>
<use href="#lg" clip-path="url(#c4)" transform="translate(0,-37.98) scale(1,1.9916)"/>
<use href="#lg" clip-path="url(#c5)" transform="translate(0,-36.56) scale(1,1.9545)"/>
<use href="#lg" clip-path="url(#c6)" transform="translate(0,-35.17) scale(1,1.9182)"/>
<use href="#lg" clip-path="url(#c7)" transform="translate(0,-33.8) scale(1,1.8825)"/>
<use href="#lg" clip-path="url(#c8)" transform="translate(0,-32.46) scale(1,1.8476)"/>
<use href="#lg" clip-path="url(#c9)" transform="translate(0,-31.15) scale(1,1.8133)"/>
<use href="#lg" clip-path="url(#c10)" transform="translate(0,-29.87) scale(1,1.7798)"/>
<use href="#lg" clip-path="url(#c11)" transform="translate(0,-28.61) scale(1,1.7469)"/>
<use href="#lg" clip-path="url(#c12)" transform="translate(0,-27.38) scale(1,1.7148)"/>
<use href="#lg" clip-path="url(#c13)" transform="translate(0,-26.17) scale(1,1.6834)"/>
<use href="#lg" clip-path="url(#c14)" transform="translate(0,-25) scale(1,1.6527)"/>
<use href="#lg" clip-path="url(#c15)" transform="translate(0,-23.85) scale(1,1.6227)"/>
<use href="#lg" clip-path="url(#c16)" transform="translate(0,-22.73) scale(1,1.5934)"/>
<use href="#lg" clip-path="url(#c17)" transform="translate(0,-21.63) scale(1,1.5648)"/>
<use href="#lg" clip-path="url(#c18)" transform="translate(0,-20.56) scale(1,1.5369)"/>
<use href="#lg" clip-path="url(#c19)" transform="translate(0,-19.52) scale(1,1.5097)"/>
<use href="#lg" clip-path="url(#c20)" transform="translate(0,-18.51) scale(1,1.4833)"/>
<use href="#lg" clip-path="url(#c21)" transform="translate(0,-17.52) scale(1,1.4575)"/>
<use href="#lg" clip-path="url(#c22)" transform="translate(0,-16.56) scale(1,1.4324)"/>
<use href="#lg" clip-path="url(#c23)" transform="translate(0,-15.63) scale(1,1.4081)"/>
<use href="#lg" clip-path="url(#c24)" transform="translate(0,-14.72) scale(1,1.3844)"/>
<use href="#lg" clip-path="url(#c25)" transform="translate(0,-13.84) scale(1,1.3615)"/>
<use href="#lg" clip-path="url(#c26)" transform="translate(0,-12.99) scale(1,1.3392)"/>
<use href="#lg" clip-path="url(#c27)" transform="translate(0,-12.17) scale(1,1.3177)"/>
<use href="#lg" clip-path="url(#c28)" transform="translate(0,-11.37) scale(1,1.2969)"/>
<use href="#lg" clip-path="url(#c29)" transform="translate(0,-10.6) scale(1,1.2768)"/>
<use href="#lg" clip-path="url(#c30)" transform="translate(0,-9.86) scale(1,1.2573)"/>
<use href="#lg" clip-path="url(#c31)" transform="translate(0,-9.14) scale(1,1.2386)"/>
<use href="#lg" clip-path="url(#c32)" transform="translate(0,-8.45) scale(1,1.2206)"/>
<use href="#lg" clip-path="url(#c33)" transform="translate(0,-7.79) scale(1,1.2033)"/>
<use href="#lg" clip-path="url(#c34)" transform="translate(0,-7.15) scale(1,1.1867)"/>
<use href="#lg" clip-path="url(#c35)" transform="translate(0,-6.54) scale(1,1.1709)"/>
<use href="#lg" clip-path="url(#c36)" transform="translate(0,-5.96) scale(1,1.1557)"/>
<use href="#lg" clip-path="url(#c37)" transform="translate(0,-5.41) scale(1,1.1412)"/>
<use href="#lg" clip-path="url(#c38)" transform="translate(0,-4.88) scale(1,1.1274)"/>
<use href="#lg" clip-path="url(#c39)" transform="translate(0,-4.38) scale(1,1.1144)"/>
<use href="#lg" clip-path="url(#c40)" transform="translate(0,-3.91) scale(1,1.1020)"/>
<use href="#lg" clip-path="url(#c41)" transform="translate(0,-3.46) scale(1,1.0904)"/>
<use href="#lg" clip-path="url(#c42)" transform="translate(0,-3.04) scale(1,1.0794)"/>
<use href="#lg" clip-path="url(#c43)" transform="translate(0,-2.65) scale(1,1.0692)"/>
<use href="#lg" clip-path="url(#c44)" transform="translate(0,-2.28) scale(1,1.0597)"/>
<use href="#lg" clip-path="url(#c45)" transform="translate(0,-1.95) scale(1,1.0508)"/>
<use href="#lg" clip-path="url(#c46)" transform="translate(0,-1.64) scale(1,1.0427)"/>
<use href="#lg" clip-path="url(#c47)" transform="translate(0,-1.35) scale(1,1.0353)"/>
<use href="#lg" clip-path="url(#c48)" transform="translate(0,-1.1) scale(1,1.0286)"/>
<use href="#lg" clip-path="url(#c49)" transform="translate(0,-0.87) scale(1,1.0226)"/>
<use href="#lg" clip-path="url(#c50)" transform="translate(0,-0.66) scale(1,1.0173)"/>
<use href="#lg" clip-path="url(#c51)" transform="translate(0,-0.49) scale(1,1.0127)"/>
<use href="#lg" clip-path="url(#c52)" transform="translate(0,-0.34) scale(1,1.0088)"/>
<use href="#lg" clip-path="url(#c53)" transform="translate(0,-0.22) scale(1,1.0056)"/>
<use href="#lg" clip-path="url(#c54)" transform="translate(0,-0.12) scale(1,1.0032)"/>
<use href="#lg" clip-path="url(#c55)" transform="translate(0,-0.05) scale(1,1.0014)"/>
<use href="#lg" clip-path="url(#c56)" transform="translate(0,-0.01) scale(1,1.0004)"/>
<use href="#lg" clip-path="url(#c57)" transform="translate(0,0) scale(1,1.0000)"/>
<use href="#lg" clip-path="url(#c58)" transform="translate(0,-0.01) scale(1,1.0004)"/>
<use href="#lg" clip-path="url(#c59)" transform="translate(0,-0.05) scale(1,1.0014)"/>
<use href="#lg" clip-path="url(#c60)" transform="translate(0,-0.12) scale(1,1.0032)"/>
<use href="#lg" clip-path="url(#c61)" transform="translate(0,-0.22) scale(1,1.0056)"/>
<use href="#lg" clip-path="url(#c62)" transform="translate(0,-0.34) scale(1,1.0088)"/>
<use href="#lg" clip-path="url(#c63)" transform="translate(0,-0.49) scale(1,1.0127)"/>
<use href="#lg" clip-path="url(#c64)" transform="translate(0,-0.66) scale(1,1.0173)"/>
<use href="#lg" clip-path="url(#c65)" transform="translate(0,-0.87) scale(1,1.0226)"/>
<use href="#lg" clip-path="url(#c66)" transform="translate(0,-1.1) scale(1,1.0286)"/>
<use href="#lg" clip-path="url(#c67)" transform="translate(0,-1.35) scale(1,1.0353)"/>
<use href="#lg" clip-path="url(#c68)" transform="translate(0,-1.64) scale(1,1.0427)"/>
<use href="#lg" clip-path="url(#c69)" transform="translate(0,-1.95) scale(1,1.0508)"/>
<use href="#lg" clip-path="url(#c70)" transform="translate(0,-2.28) scale(1,1.0597)"/>
<use href="#lg" clip-path="url(#c71)" transform="translate(0,-2.65) scale(1,1.0692)"/>
<use href="#lg" clip-path="url(#c72)" transform="translate(0,-3.04) scale(1,1.0794)"/>
<use href="#lg" clip-path="url(#c73)" transform="translate(0,-3.46) scale(1,1.0904)"/>
<use href="#lg" clip-path="url(#c74)" transform="translate(0,-3.91) scale(1,1.1020)"/>
<use href="#lg" clip-path="url(#c75)" transform="translate(0,-4.38) scale(1,1.1144)"/>
<use href="#lg" clip-path="url(#c76)" transform="translate(0,-4.88) scale(1,1.1274)"/>
<use href="#lg" clip-path="url(#c77)" transform="translate(0,-5.41) scale(1,1.1412)"/>
<use href="#lg" clip-path="url(#c78)" transform="translate(0,-5.96) scale(1,1.1557)"/>
<use href="#lg" clip-path="url(#c79)" transform="translate(0,-6.54) scale(1,1.1709)"/>
<use href="#lg" clip-path="url(#c80)" transform="translate(0,-7.15) scale(1,1.1867)"/>
<use href="#lg" clip-path="url(#c81)" transform="translate(0,-7.79) scale(1,1.2033)"/>
<use href="#lg" clip-path="url(#c82)" transform="translate(0,-8.45) scale(1,1.2206)"/>
<use href="#lg" clip-path="url(#c83)" transform="translate(0,-9.14) scale(1,1.2386)"/>
<use href="#lg" clip-path="url(#c84)" transform="translate(0,-9.86) scale(1,1.2573)"/>
<use href="#lg" clip-path="url(#c85)" transform="translate(0,-10.6) scale(1,1.2768)"/>
<use href="#lg" clip-path="url(#c86)" transform="translate(0,-11.37) scale(1,1.2969)"/>
<use href="#lg" clip-path="url(#c87)" transform="translate(0,-12.17) scale(1,1.3177)"/>
<use href="#lg" clip-path="url(#c88)" transform="translate(0,-12.99) scale(1,1.3392)"/>
<use href="#lg" clip-path="url(#c89)" transform="translate(0,-13.84) scale(1,1.3615)"/>
<use href="#lg" clip-path="url(#c90)" transform="translate(0,-14.72) scale(1,1.3844)"/>
<use href="#lg" clip-path="url(#c91)" transform="translate(0,-15.63) scale(1,1.4081)"/>
<use href="#lg" clip-path="url(#c92)" transform="translate(0,-16.56) scale(1,1.4324)"/>
<use href="#lg" clip-path="url(#c93)" transform="translate(0,-17.52) scale(1,1.4575)"/>
<use href="#lg" clip-path="url(#c94)" transform="translate(0,-18.51) scale(1,1.4833)"/>
<use href="#lg" clip-path="url(#c95)" transform="translate(0,-19.52) scale(1,1.5097)"/>
<use href="#lg" clip-path="url(#c96)" transform="translate(0,-20.56) scale(1,1.5369)"/>
<use href="#lg" clip-path="url(#c97)" transform="translate(0,-21.63) scale(1,1.5648)"/>
<use href="#lg" clip-path="url(#c98)" transform="translate(0,-22.73) scale(1,1.5934)"/>
<use href="#lg" clip-path="url(#c99)" transform="translate(0,-23.85) scale(1,1.6227)"/>
<use href="#lg" clip-path="url(#c100)" transform="translate(0,-25) scale(1,1.6527)"/>
<use href="#lg" clip-path="url(#c101)" transform="translate(0,-26.17) scale(1,1.6834)"/>
<use href="#lg" clip-path="url(#c102)" transform="translate(0,-27.38) scale(1,1.7148)"/>
<use href="#lg" clip-path="url(#c103)" transform="translate(0,-28.61) scale(1,1.7469)"/>
<use href="#lg" clip-path="url(#c104)" transform="translate(0,-29.87) scale(1,1.7798)"/>
<use href="#lg" clip-path="url(#c105)" transform="translate(0,-31.15) scale(1,1.8133)"/>
<use href="#lg" clip-path="url(#c106)" transform="translate(0,-32.46) scale(1,1.8476)"/>
<use href="#lg" clip-path="url(#c107)" transform="translate(0,-33.8) scale(1,1.8825)"/>
<use href="#lg" clip-path="url(#c108)" transform="translate(0,-35.17) scale(1,1.9182)"/>
<use href="#lg" clip-path="url(#c109)" transform="translate(0,-36.56) scale(1,1.9545)"/>
<use href="#lg" clip-path="url(#c110)" transform="translate(0,-37.98) scale(1,1.9916)"/>
<use href="#lg" clip-path="url(#c111)" transform="translate(0,-39.42) scale(1,2.0293)"/>
<use href="#lg" clip-path="url(#c112)" transform="translate(0,-40.9) scale(1,2.0678)"/>
<use href="#lg" clip-path="url(#c113)" transform="translate(0,-42.4) scale(1,2.1070)"/>
<use href="#lg" clip-path="url(#c114)" transform="translate(0,-43.93) scale(1,2.1469)"/>
</g>
</svg>
</body></html>
